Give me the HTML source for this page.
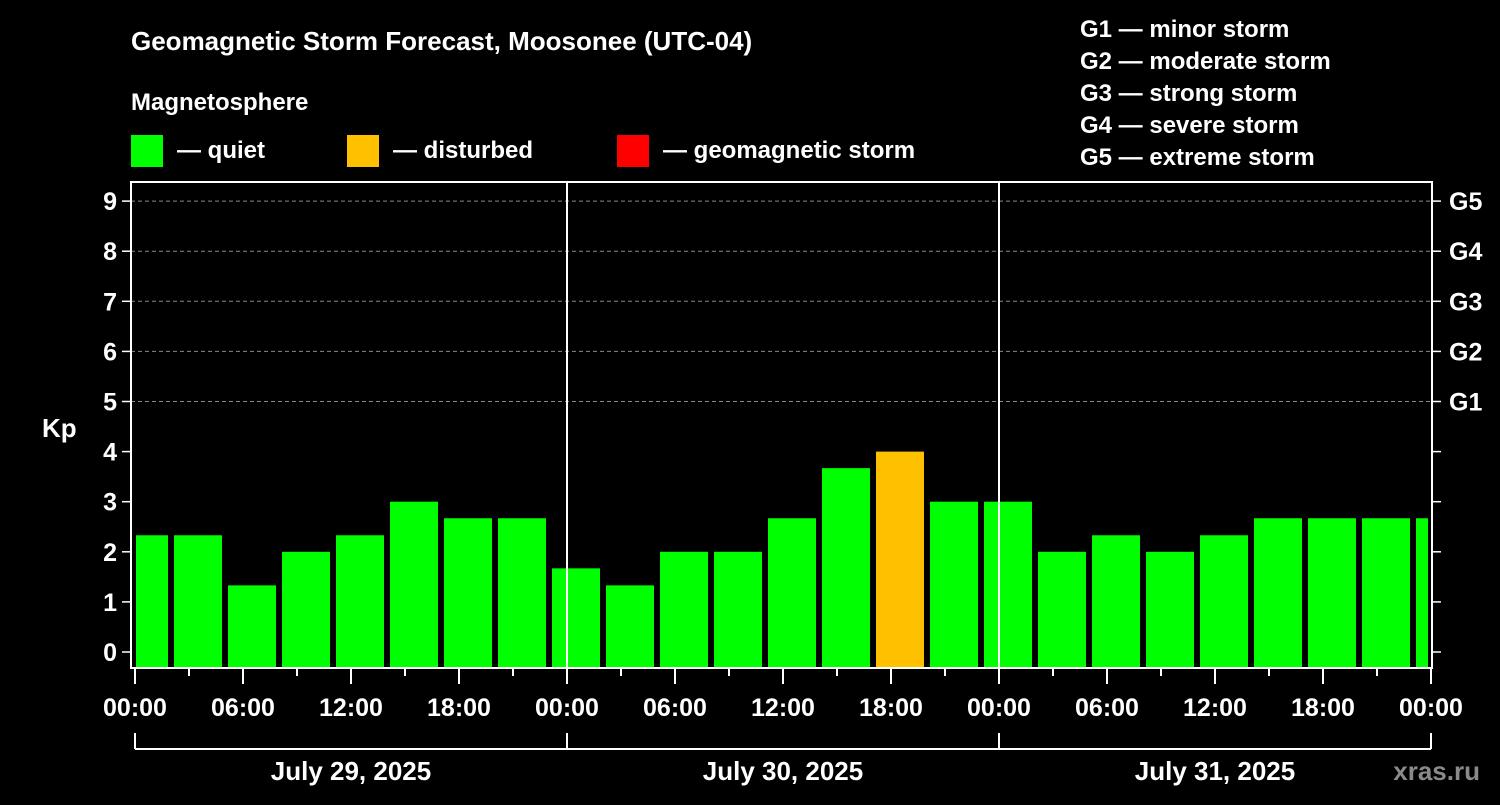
<!DOCTYPE html>
<html><head><meta charset="utf-8"><style>
body{margin:0;background:#000;width:1500px;height:800px;overflow:hidden}
svg text{font-family:"Liberation Sans",sans-serif;font-weight:bold;fill:#fff}
</style></head><body>
<svg width="1500" height="800">
<text x="131" y="50" font-size="26">Geomagnetic Storm Forecast, Moosonee (UTC-04)</text>
<text x="131" y="110" font-size="24">Magnetosphere</text>
<g>
<rect x="131" y="135" width="32" height="32" fill="#00ff00"/><text x="177" y="158" font-size="24">— quiet</text>
<rect x="347" y="135" width="32" height="32" fill="#ffc000"/><text x="393" y="158" font-size="24">— disturbed</text>
<rect x="617" y="135" width="32" height="32" fill="#ff0000"/><text x="663" y="158" font-size="24">— geomagnetic storm</text>
</g>
<g font-size="24">
<text x="1080" y="37">G1 — minor storm</text><text x="1080" y="69">G2 — moderate storm</text>
<text x="1080" y="101">G3 — strong storm</text><text x="1080" y="133">G4 — severe storm</text>
<text x="1080" y="165">G5 — extreme storm</text>
</g>
<text x="42" y="437" font-size="26">Kp</text>
<text x="1480" y="780" font-size="26" text-anchor="end" fill="#888" style="fill:#8a8a8a">xras.ru</text>
<g id="plot"></g>
</svg>
<script>
const kpValues=[2.33,2.33,1.33,2,2.33,3,2.67,2.67,1.67,1.33,2,2,2.67,3.67,4,3,3,2,2.33,2,2.33,2.67,2.67,2.67,2.67];
const barHours=[0.5,3.5,6.5,9.5,12.5,15.5,18.5,21.5,24.5,27.5,30.5,33.5,36.5,39.5,42.5,45.5,48.5,51.5,54.5,57.5,60.5,63.5,66.5,69.5,72.5];
const kpTicks=[0,1,2,3,4,5,6,7,8,9];
const gLabels=["G1","G2","G3","G4","G5"];
const timeLabels=["00:00","06:00","12:00","18:00","00:00","06:00","12:00","18:00","00:00","06:00","12:00","18:00","00:00"];
const dateLabels=["July 29, 2025","July 30, 2025","July 31, 2025"];
const X0=135,PX_H=18,Y0=652,PX_K=50.1,L=131,R=1432,T=182,B=668;
const xs=h=>X0+h*PX_H, ys=k=>Y0-k*PX_K;
const ns="http://www.w3.org/2000/svg",g=document.getElementById('plot');
function mk(t,a){const e=document.createElementNS(ns,t);for(const k in a)e.setAttribute(k,a[k]);g.appendChild(e);return e;}
kpTicks.forEach(k=>{
 if(k>=5){const l=mk('line',{x1:L,x2:R,y1:ys(k),y2:ys(k),stroke:'#888','stroke-dasharray':'4,3','stroke-width':1});
 }
 const t=mk('line',{x1:L-9,x2:L,y1:ys(k),y2:ys(k),stroke:'#fff','stroke-width':1.5});
 
 const t2=mk('line',{x1:R,x2:R+9,y1:ys(k),y2:ys(k),stroke:'#fff','stroke-width':1.5});
 
 const tx=mk('text',{x:L-14,y:ys(k)+9,'font-size':25,'text-anchor':'end'});tx.textContent=k;
 
});
gLabels.forEach((s,i)=>{const tx=mk('text',{x:R+17,y:ys(i+5)+9,'font-size':25});tx.textContent=s;
 });
kpValues.forEach((v,i)=>{
 let a=xs(barHours[i]-1.5)+3,b=xs(barHours[i]+1.5)-3;a=Math.max(a,L+5);b=Math.min(b,R-4);
 const r=mk('rect',{x:a,y:ys(v),width:b-a,height:B-ys(v),fill:v>=4.5?'#ff0000':(v>=4?'#ffc000':'#00ff00')});
 
});
[24,48].forEach(h=>{const l=mk('line',{x1:xs(h),x2:xs(h),y1:T,y2:B,stroke:'#fff','stroke-width':2});
 });
const fr=mk('rect',{x:L,y:T,width:R-L,height:B-T,fill:'none',stroke:'#fff','stroke-width':2});

for(let h=0;h<=72;h+=3){const l=mk('line',{x1:xs(h),x2:xs(h),y1:B,y2:B+(h%6?8:16),stroke:'#fff','stroke-width':2});
 }
timeLabels.forEach((s,i)=>{const tx=mk('text',{x:xs(i*6),y:716,'font-size':25,'text-anchor':'middle'});tx.textContent=s;
 });
const bl=mk('line',{x1:xs(0),x2:xs(72),y1:749,y2:749,stroke:'#fff','stroke-width':2});

[0,24,48,72].forEach(h=>{const l=mk('line',{x1:xs(h),x2:xs(h),y1:733,y2:749,stroke:'#fff','stroke-width':2});
 });
dateLabels.forEach((s,i)=>{const tx=mk('text',{x:xs(i*24+12),y:780,'font-size':26,'text-anchor':'middle'});tx.textContent=s;
 });
</script>
</body></html>
